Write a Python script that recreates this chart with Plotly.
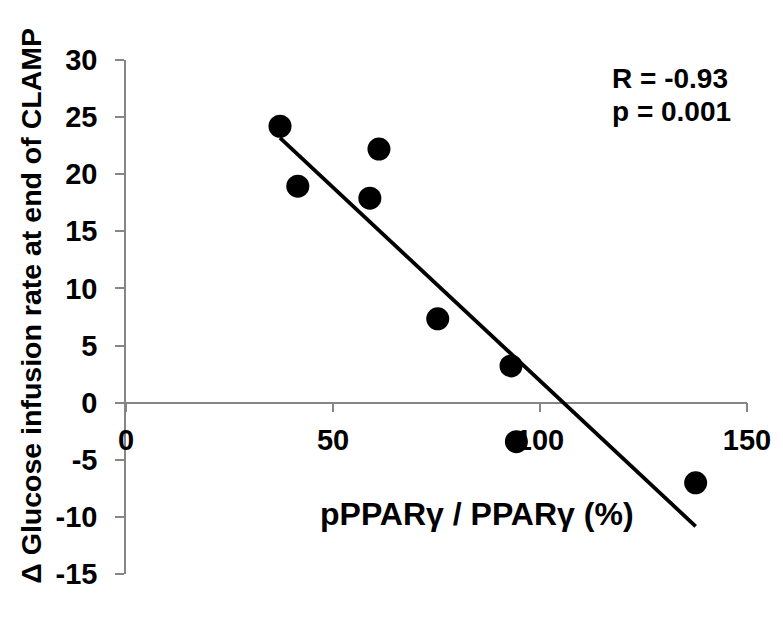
import numpy as np
import plotly.graph_objects as go

# Data
ratio_pct = [37.2, 41.5, 58.9, 61.1, 75.3, 93.0, 94.3, 137.6]
delta_gir = [24.2, 18.95, 17.9, 22.2, 7.34, 3.22, -3.42, -7.02]
x_ticks = [0, 50, 100, 150]
y_ticks = [-15, -10, -5, 0, 5, 10, 15, 20, 25, 30]
y_tick_labels = ["-15", "-10", "-5", "0", "5", "10", "15", "20", "25", "30"]
stats_lines = ["R = -0.93", "p = 0.001"]
x_title = "pPPARγ / PPARγ (%)"
y_title = "Δ Glucose infusion rate at end of CLAMP"

slope, intercept = np.polyfit(ratio_pct, delta_gir, 1)
fit_x = [min(ratio_pct), max(ratio_pct)]
fit_y = [slope * v + intercept for v in fit_x]

FONT = "Liberation Sans, Arial, sans-serif"
AX = "#868686"
TICK_FS = 29

fig = go.Figure()
fig.add_trace(go.Scatter(x=ratio_pct, y=delta_gir, mode="markers",
                         marker=dict(size=23, color="black"), showlegend=False))
fig.add_trace(go.Scatter(x=fit_x, y=fit_y, mode="lines",
                         line=dict(color="black", width=3.8), showlegend=False))

fig.update_layout(
    width=783, height=631,
    margin=dict(l=126, r=34, t=60, b=57),
    paper_bgcolor="white", plot_bgcolor="white",
    font=dict(family=FONT, size=TICK_FS, color="black", weight="bold"),
    xaxis=dict(range=[0, 150], tickvals=x_ticks, ticktext=[str(v) for v in x_ticks],
               showgrid=False, zeroline=False,
               showline=True, linecolor=AX, linewidth=1.5,
               ticks="outside", ticklen=9, tickcolor=AX, tickwidth=1.5,
               anchor="free", position=1/3, layer="below traces",
               ticklabelstandoff=3,
               tickfont=dict(family=FONT, size=TICK_FS, weight="bold")),
    yaxis=dict(range=[-15, 30], tickvals=y_ticks, ticktext=y_tick_labels,
               showgrid=False, zeroline=False,
               showline=True, linecolor=AX, linewidth=1.5,
               ticks="outside", ticklen=9, tickcolor=AX, tickwidth=1.5,
               layer="below traces", ticklabelstandoff=12,
               tickfont=dict(family=FONT, size=TICK_FS, weight="bold")),
    annotations=[
        dict(text=y_title, xref="paper", yref="paper", x=0, xshift=-95,
             y=0.522, textangle=-90, showarrow=False, xanchor="center",
             yanchor="middle", font=dict(size=28.5, weight="bold")),
        dict(text=x_title, xref="paper", yref="paper", x=0.565, y=0.116,
             showarrow=False, xanchor="center", yanchor="middle",
             font=dict(size=32, weight="bold")),
        dict(text=stats_lines[0], xref="paper", yref="paper", x=0.78, y=0.9645,
             showarrow=False, xanchor="left", yanchor="middle", align="left",
             font=dict(size=28, weight="bold")),
        dict(text=stats_lines[1], xref="paper", yref="paper", x=0.78, y=0.9002,
             showarrow=False, xanchor="left", yanchor="middle", align="left",
             font=dict(size=28, weight="bold")),
    ],
)

fig.write_html("out.html")
